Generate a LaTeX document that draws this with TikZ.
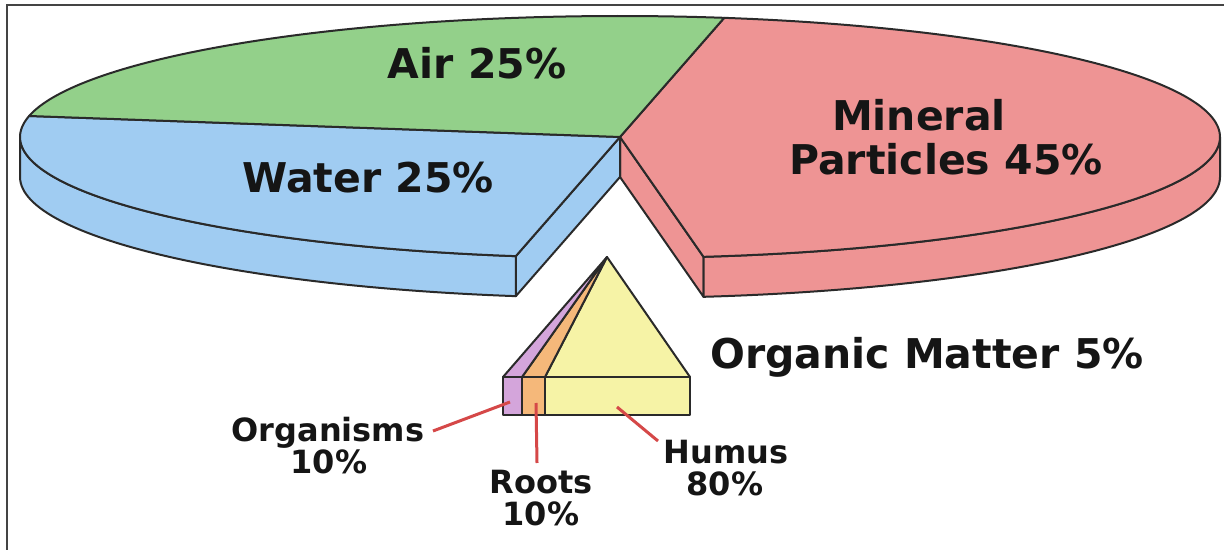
\documentclass[tikz,border=0pt]{standalone}
\usepackage{fontspec}
\setmainfont{DejaVu Sans}
\definecolor{redc}{HTML}{EE9494}
\definecolor{greenc}{HTML}{93D08A}
\definecolor{bluec}{HTML}{A0CCF2}
\definecolor{yellowc}{HTML}{F6F3A6}
\definecolor{orangec}{HTML}{F5B87A}
\definecolor{purplec}{HTML}{D4A5DB}
\definecolor{edgec}{HTML}{2A2A2A}
\definecolor{leadc}{HTML}{D54848}
\definecolor{txt}{HTML}{151515}
\definecolor{framec}{HTML}{444444}
\begin{document}
\begin{tikzpicture}[x=0.5pt,y=-0.5pt,
  edge/.style={draw=edgec, line width=1pt, line join=round},
  leader/.style={draw=leadc, line width=1.5pt},
  big/.style={font=\fontsize{20.5}{22}\selectfont\bfseries, text=txt, inner sep=0pt, anchor=base},
  small/.style={font=\fontsize{16}{16}\selectfont\bfseries, text=txt, inner sep=0pt, anchor=base}]
\useasboundingbox (0,0) rectangle (1224,550);
\draw[framec, line width=1pt] (7,550) -- (7,5) -- (1224,5);

% ---- Mineral particles (red) ----
\path[edge, fill=redc] (620,137) -- ({620+600*cos(-82)},{137-121*sin(-82)}) -- ({620+600*cos(-82)},{177-121*sin(-82)}) -- (620,177) -- cycle;
\path[edge, fill=redc] plot[domain=-82:0, samples=60] ({620+600*cos(\x)},{137-121*sin(\x)}) -- plot[domain=0:-82, samples=60] ({620+600*cos(\x)},{177-121*sin(\x)}) -- cycle;
\path[edge, fill=redc] (620,137) -- plot[domain=-82:80, samples=120] ({620+600*cos(\x)},{137-121*sin(\x)}) -- cycle;

% ---- Water (blue) ----
\path[edge, fill=bluec] (620,137) -- ({620+600*cos(260)},{137-121*sin(260)}) -- ({620+600*cos(260)},{177-121*sin(260)}) -- (620,177) -- cycle;
\path[edge, fill=bluec] plot[domain=180:260, samples=60] ({620+600*cos(\x)},{137-121*sin(\x)}) -- plot[domain=260:180, samples=60] ({620+600*cos(\x)},{177-121*sin(\x)}) -- cycle;
\path[edge, fill=bluec] (620,137) -- plot[domain=170:260, samples=80] ({620+600*cos(\x)},{137-121*sin(\x)}) -- cycle;

% ---- Air (green) ----
\path[edge, fill=greenc] (620,137) -- plot[domain=80:170, samples=80] ({620+600*cos(\x)},{137-121*sin(\x)}) -- cycle;

% ---- Organic matter wedge ----
\coordinate (apex) at (607,257);
\coordinate (bl) at (503,377);
\coordinate (b1) at (522,377);
\coordinate (b2) at (545,377);
\coordinate (br) at (690,377);
\coordinate (fl) at (503,415);
\coordinate (f1) at (522,415);
\coordinate (f2) at (545,415);
\coordinate (fr) at (690,415);
\path[edge, fill=yellowc] (apex) -- (b2) -- (br) -- cycle;
\path[edge, fill=orangec] (apex) -- (b1) -- (b2) -- cycle;
\path[edge, fill=purplec] (apex) -- (bl) -- (b1) -- cycle;
\path[edge, fill=purplec] (bl) rectangle (f1);
\path[edge, fill=orangec] (b1) rectangle (f2);
\path[edge, fill=yellowc] (b2) rectangle (fr);

% ---- labels ----
\node[big] (air) at (477,79) {Air 25\%};
\node[big] (water) at (368,193) {Water 25\%};
\node[big] (min1) at (919,131) {Mineral};
\node[big] (min2) at (946,175) {Particles 45\%};
\node[big] (org) at (927,368) {Organic Matter 5\%};
\node[small] (orgs1) at (328,441) {Organisms};
\node[small] (orgs2) at (329,473) {10\%};
\node[small] (roots1) at (541,493) {Roots};
\node[small] (roots2) at (541,525) {10\%};
\node[small] (hum1) at (726,463) {Humus};
\node[small] (hum2) at (725,495) {80\%};

% ---- leaders ----
\coordinate (lo1) at (433,431);
\coordinate (lo2) at (510,402);
\coordinate (lr1) at (537,463);
\coordinate (lr2) at (536,403);
\coordinate (lh1) at (658,441);
\coordinate (lh2) at (617,407);
\draw[leader] (lo1) -- (lo2);
\draw[leader] (lr1) -- (lr2);
\draw[leader] (lh1) -- (lh2);
\end{tikzpicture}
\end{document}
